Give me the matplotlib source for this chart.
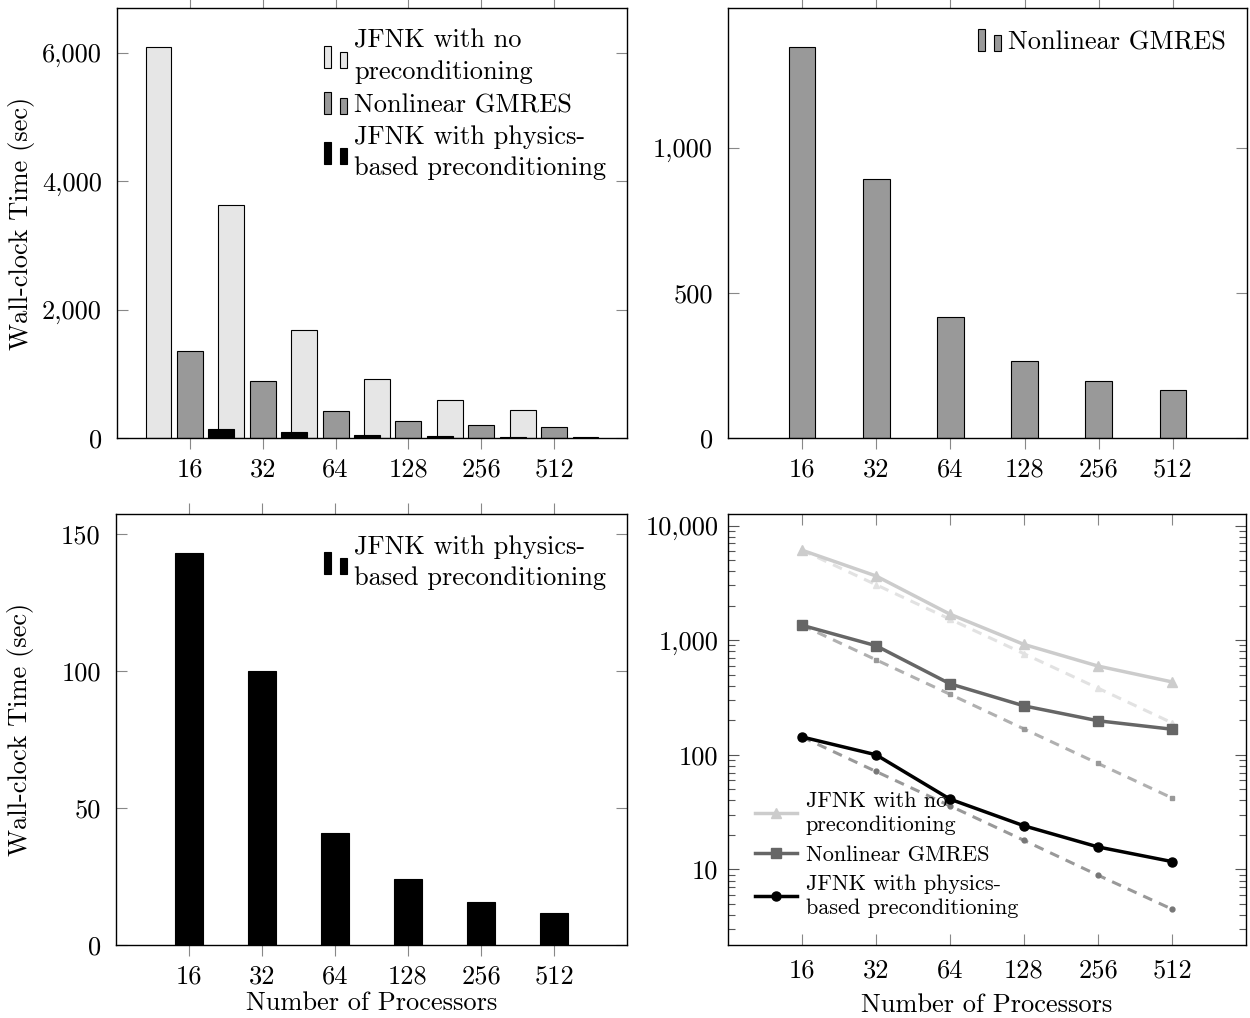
import matplotlib
matplotlib.use("Agg")
from matplotlib import pyplot as plt
from matplotlib.container import BarContainer
from matplotlib.legend_handler import HandlerBase
from matplotlib.patches import Rectangle
from matplotlib.ticker import FuncFormatter, LogLocator, NullFormatter, FixedLocator

plt.rcParams["font.family"] = ["cmr10", "DejaVu Serif"]
plt.rcParams["axes.formatter.use_mathtext"] = True

# data
procs = ["16", "32", "64", "128", "256", "512"]
t_none = [6090, 3630, 1683, 917, 594, 432]
t_gmres = [1348, 894, 416, 267, 198, 167]
t_phys = [143, 100, 41, 24, 15.7, 11.7]
# ideal (linear) scaling lines in the log panel
ideal_none = [6090, 3045, 1523, 761, 381, 190]
ideal_gmres = [1348, 674, 337, 168, 84, 42]
ideal_phys = [143, 71.5, 35.8, 17.9, 8.9, 4.5]

lbl_none = "JFNK with no\npreconditioning"
lbl_gmres = "Nonlinear GMRES"
lbl_phys = "JFNK with physics-\nbased preconditioning"

c_none, c_gmres, c_phys = "#e6e6e6", "#999999", "black"
FS = 19
W, H = 1250, 1018


class PairBarHandler(HandlerBase):
    # pgfplots style ybar legend: two little bars
    def create_artists(self, legend, orig_handle, xdescent, ydescent,
                       width, height, fontsize, trans):
        fc = orig_handle.patches[0].get_facecolor()
        w = width * 0.32
        r1 = Rectangle((-xdescent, -ydescent), w, height, facecolor=fc,
                       edgecolor="black", lw=0.8, transform=trans)
        r2 = Rectangle((-xdescent + width - w, -ydescent), w, height * 0.72,
                       facecolor=fc, edgecolor="black", lw=0.8, transform=trans)
        return [r1, r2]


def make_axes(x0, y0, x1, y1):
    return fig.add_axes([x0 / W, 1 - y1 / H, (x1 - x0) / W, (y1 - y0) / H])


comma = FuncFormatter(lambda v, p: f"{v:,.0f}")
x = list(range(len(procs)))


def style_bar_axes(ax, ymax):
    ax.set_xlim(-1, 6)
    ax.set_ylim(0, ymax)
    ax.set_xticks(x)
    ax.set_xticklabels(procs)
    ax.yaxis.set_major_formatter(comma)
    ax.tick_params(axis="x", direction="out", top=True, length=8, width=0.8,
                   color="#888888", labelsize=FS, pad=6)
    ax.tick_params(axis="y", direction="in", right=True, length=8, width=0.8,
                   color="#888888", labelsize=FS, pad=11)
    for s in ax.spines.values():
        s.set_linewidth(1.0)


def bar_legend(ax):
    leg = ax.legend(loc="upper right", frameon=False, fontsize=FS,
                    handler_map={BarContainer: PairBarHandler()},
                    handlelength=0.9, handleheight=0.9, handletextpad=0.25,
                    labelspacing=0.3, borderaxespad=0.5, borderpad=0.3)
    for t in leg.get_texts():
        t.set_linespacing(1.4)
    return leg


fig = plt.figure(figsize=(W / 100, H / 100), dpi=100)

# top left: all three
ax1 = make_axes(117, 8, 627, 438)
bw = 0.356
ax1.bar([i - 0.43 for i in x], t_none, bw, color=c_none, edgecolor="black", lw=0.8, label=lbl_none)
ax1.bar(x, t_gmres, bw, color=c_gmres, edgecolor="black", lw=0.8, label=lbl_gmres)
ax1.bar([i + 0.43 for i in x], t_phys, bw, color=c_phys, edgecolor="black", lw=0.8, label=lbl_phys)
style_bar_axes(ax1, 1.1 * max(t_none))
ax1.set_yticks([0, 2000, 4000, 6000])
bar_legend(ax1)
ax1.set_ylabel("Wall-clock Time (sec)", fontsize=FS)
ax1.yaxis.set_label_coords(-0.16, 0.5)

# top right: nonlinear GMRES
ax2 = make_axes(728, 8, 1247, 438)
ax2.bar(x, t_gmres, 0.36, color=c_gmres, edgecolor="black", lw=0.8, label=lbl_gmres)
style_bar_axes(ax2, 1.1 * max(t_gmres))
ax2.set_yticks([0, 500, 1000])
bar_legend(ax2)

# bottom left: physics based
ax3 = make_axes(116, 514, 627, 945)
ax3.bar(x, t_phys, 0.37, color=c_phys, edgecolor="black", lw=0.8, label=lbl_phys)
style_bar_axes(ax3, 1.1 * max(t_phys))
ax3.set_yticks([0, 50, 100, 150])
bar_legend(ax3)
ax3.set_ylabel("Wall-clock Time (sec)", fontsize=FS)
ax3.yaxis.set_label_coords(-0.16, 0.5)
ax3.set_xlabel("Number of Processors", fontsize=FS, labelpad=2.5)

# bottom right: log scale with ideal scaling
ax4 = make_axes(728, 514, 1246, 945)
dash = (0, (3.2, 2.4))
ax4.plot(x, ideal_none, color="#e2e2e2", lw=2.2, ls=dash, marker="^", ms=4)
ax4.plot(x, ideal_gmres, color="#b0b0b0", lw=2.2, ls=dash, marker="s", ms=3.5,
         mfc="#999999", mec="#999999")
ax4.plot(x, ideal_phys, color="#999999", lw=2.2, ls=dash, marker="o", ms=3.5,
         mfc="#777777", mec="#777777")
ax4.plot(x, t_none, color="#cccccc", lw=2.5, marker="^", ms=7, label=lbl_none)
ax4.plot(x, t_gmres, color="#666666", lw=2.5, marker="s", ms=6.5, label=lbl_gmres)
ax4.plot(x, t_phys, color="black", lw=2.5, marker="o", ms=6.5, label=lbl_phys)
ax4.set_yscale("log")
ax4.set_xlim(-1, 6)
ax4.set_ylim(2.19, 12600)
ax4.set_xticks(x)
ax4.set_xticklabels(procs)
ax4.yaxis.set_major_locator(FixedLocator([10, 100, 1000, 10000]))
ax4.yaxis.set_major_formatter(comma)
ax4.yaxis.set_minor_locator(LogLocator(base=10, subs=range(2, 10), numticks=20))
ax4.yaxis.set_minor_formatter(NullFormatter())
ax4.tick_params(axis="x", direction="in", top=True, length=8, width=0.8,
                color="#888888", labelsize=FS, pad=10)
ax4.tick_params(axis="y", which="major", direction="in", right=True, length=8,
                width=0.8, color="#555555", labelsize=FS, pad=7)
ax4.tick_params(axis="y", which="minor", direction="in", right=True, length=5,
                width=0.8, color="#555555")
for s in ax4.spines.values():
    s.set_linewidth(1.0)
leg = ax4.legend(loc="lower left", frameon=False, fontsize=16,
                 handlelength=1.9, handletextpad=0.4, labelspacing=0.45,
                 borderaxespad=0.7, borderpad=0.5)
for t in leg.get_texts():
    t.set_linespacing(1.3)
ax4.set_xlabel("Number of Processors", fontsize=FS, labelpad=8)

fig.savefig("out.png", dpi=100)
